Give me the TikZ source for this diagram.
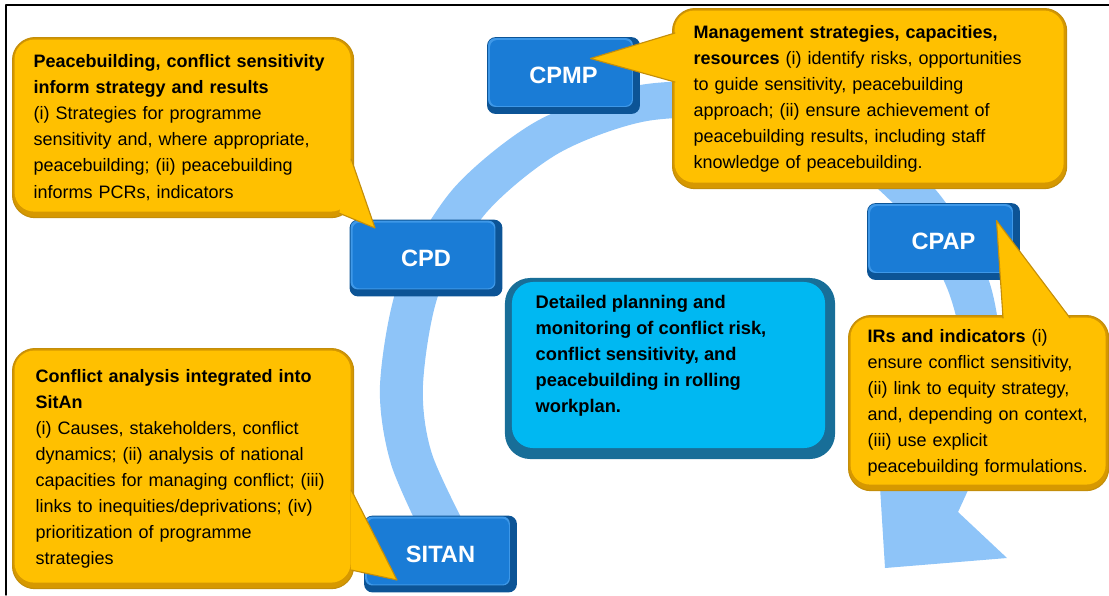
\documentclass[tikz,border=0pt]{standalone}
\usepackage{fontspec}
\setmainfont{Liberation Sans}
\usetikzlibrary{calc}
\definecolor{bandblue}{RGB}{142,196,248}
\definecolor{gold}{RGB}{255,192,0}
\definecolor{golddark}{RGB}{214,152,0}
\definecolor{goldedge}{RGB}{196,142,10}
\definecolor{blueface}{RGB}{26,124,214}
\definecolor{bluelight}{RGB}{62,152,232}
\definecolor{bluedark}{RGB}{12,84,150}
\definecolor{cyanface}{RGB}{0,184,242}
\definecolor{cyandark}{RGB}{24,110,152}
\newcommand\notefont{\fontsize{12.8}{18.5}\selectfont}
\begin{document}
\begin{tikzpicture}[x=0.025cm, y=-0.025cm, line join=round, line cap=round,
	bluebox/.style={rounded corners=6pt, fill=bluedark, minimum width=3.82cm, minimum height=1.92cm,
		text=white, font=\fontsize{16.8}{20}\selectfont\bfseries,
		path picture={
			\fill[bluelight, rounded corners=5pt] ([shift={(1,-7)}]path picture bounding box.south west) rectangle ([shift={(-7,1)}]path picture bounding box.north east);
			\fill[blueface, rounded corners=5pt] ([shift={(3,-8)}]path picture bounding box.south west) rectangle ([shift={(-8,3)}]path picture bounding box.north east);}},
	planbox/.style={rounded corners=18pt, fill=cyandark, minimum width=8.25cm, minimum height=4.525cm,
		path picture={
			\fill[cyanface, rounded corners=15pt] ([shift={(7,-11)}]path picture bounding box.south west) rectangle ([shift={(-10,4)}]path picture bounding box.north east);}},
	plantext/.style={align=left, font=\fontsize{13}{18.5}\selectfont\bfseries},
	note/.style={anchor=north west, rounded corners=16pt, fill=gold, draw=goldedge, line width=0.8pt,
		align=left, font=\notefont,
		path picture={
			\fill[golddark] (path picture bounding box.south west) rectangle (path picture bounding box.north east);
			\fill[gold, rounded corners=14pt] ([shift={(2,-6)}]path picture bounding box.south west) rectangle ([shift={(-3,2)}]path picture bounding box.north east);}},
	tail/.style={fill=gold, draw=goldedge, line width=0.8pt}]
	\useasboundingbox (0,0) rectangle (1109,595);
	% frame
	\draw[line width=1pt] (6,595) -- (6,5) -- (1109,5);
	% circular arrow
	\fill[bandblue] plot[smooth] coordinates {(428,547) (391,464) (380,385) (399,281) (453,189) (537,121) (640,85) (748,85) (851,121) (935,189) (989,281) (1003,385) (985,450) (958,512)}
		-- (1007,558) -- (885,568) -- (878,455)
		-- plot[smooth] coordinates {(936,468) (965,385) (949,293) (902,213) (830,153) (741,121) (647,121) (559,153) (486,213) (439,293) (423,385) (432,454) (472,539)} -- cycle;
	% planning documents
	\node[bluebox] (cpmp) at (563.5,75.5) {CPMP};
	\node[bluebox] (cpd) at (426,258) {CPD};
	\node[bluebox] (cpap) at (943.5,241.5) {CPAP};
	\node[bluebox] (sitan) at (440.5,554) {SITAN};
	\node[planbox] (plan) at (670,368.5) {};
	\node[plantext] (plantext) at ([shift={(-19,-13)}]plan.center) {Detailed planning and\\monitoring of conflict risk,\\conflict sensitivity, and\\peacebuilding in rolling\\workplan.};
	% callouts
	\node[note, minimum width=8.525cm, minimum height=4.5cm, inner xsep=0.525cm, text width=7.475cm] (pbnote) at (12,37)
		{\textbf{Peacebuilding, conflict sensitivity}\\\textbf{inform strategy and results}\\(i) Strategies for programme\\sensitivity  and, where appropriate,\\peacebuilding; (ii) peacebuilding\\informs PCRs, indicators};
	\draw[tail] ([shift={(-3,-59)}]pbnote.south east) -- ([shift={(-51,-30)}]cpd.center) -- ([shift={(-15,-5)}]pbnote.south east);
	\node[note, minimum width=9.85cm, minimum height=4.5cm, inner xsep=0.525cm, text width=8.8cm] (mgmtnote) at (672,8)
		{\textbf{Management strategies, capacities,}\\\textbf{resources} (i) identify risks, opportunities\\to guide sensitivity, peacebuilding\\approach; (ii) ensure achievement of\\peacebuilding results, including staff\\knowledge of peacebuilding.};
	\draw[tail] ([shift={(3,25)}]mgmtnote.north west) -- ([shift={(27,-17)}]cpmp.center) -- ([shift={(3,74)}]mgmtnote.north west);
	\node[note, minimum width=6.5cm, minimum height=4.375cm, inner xsep=0.475cm, text width=5.55cm] (irnote) at (848,315)
		{\textbf{IRs and indicators} (i)\\ensure conflict sensitivity,\\(ii) link to equity strategy,\\and, depending on context,\\(iii) use explicit\\peacebuilding formulations.};
	\draw[tail] ([shift={(155,3)}]irnote.north west) -- ([shift={(53,-21)}]cpap.center) -- ([shift={(222,3)}]irnote.north west);
	\node[note, minimum width=8.525cm, minimum height=6cm, inner xsep=0.575cm, text width=7.375cm] (sitnote) at (12,348)
		{\textbf{Conflict analysis integrated into}\\\textbf{SitAn}\\(i) Causes, stakeholders, conflict\\dynamics; (ii) analysis of national\\capacities for managing conflict; (iii)\\links to inequities/deprivations; (iv)\\prioritization of programme\\strategies};
	\draw[tail] ([shift={(-3,142)}]sitnote.north east) -- ([shift={(-43.5,26)}]sitan.center) -- ([shift={(-3,222)}]sitnote.north east);
\end{tikzpicture}
\end{document}
